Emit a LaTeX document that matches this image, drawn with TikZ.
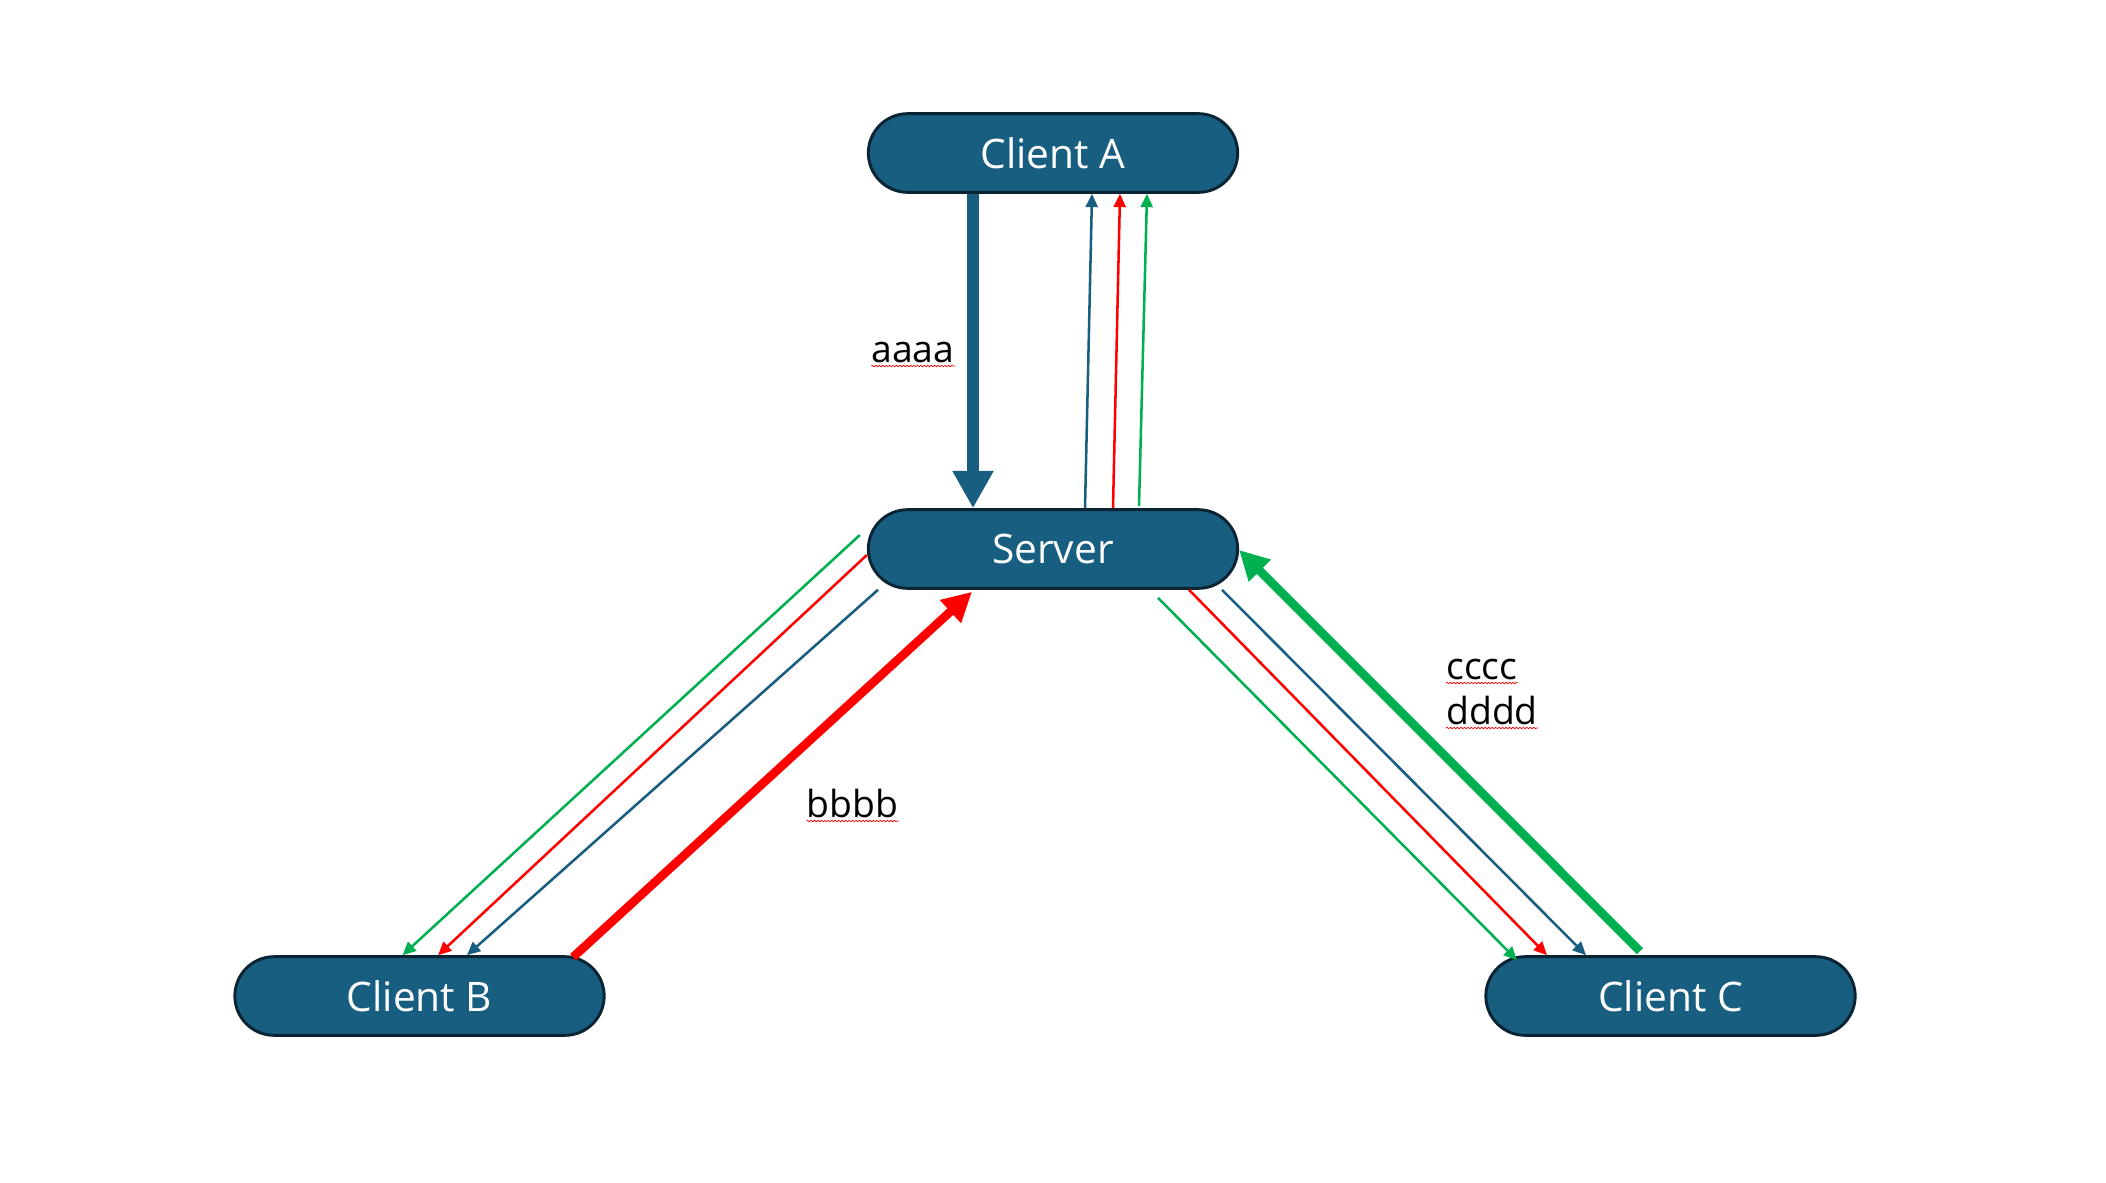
\documentclass[tikz,border=0pt]{standalone}
\usepackage{fontspec}
\setmainfont{Open Sans}
\usetikzlibrary{arrows.meta,calc,shapes.misc,decorations.pathmorphing}
\definecolor{nodeblue}{RGB}{23,94,128}
\definecolor{nodeedge}{RGB}{10,36,52}
\definecolor{pptgreen}{RGB}{0,176,80}
\definecolor{pptred}{RGB}{255,0,0}
\begin{document}
\begin{tikzpicture}[x=0.75pt,y=-0.75pt,
  client/.style={rounded rectangle, fill=nodeblue, draw=nodeedge, line width=2.2pt,
    minimum width=277pt, minimum height=59pt, text=white, inner sep=0pt,
    font=\fontsize{30.5}{34}\selectfont},
  lbl/.style={inner sep=0pt, text=black, font=\fontsize{28}{32}\selectfont},
  bigblue/.style={draw=nodeblue, line width=9pt, -{Triangle[length=28pt,width=29pt]}},
  bigcol/.style={line width=6.5pt, -{Triangle[length=22pt,width=22pt]}},
  thin/.style={line width=1.9pt, -{Triangle[length=10pt,width=9pt]}},
  squig/.style={draw=pptred, line width=0.5pt, decorate,
    decoration={snake, amplitude=0.6pt, segment length=2.6pt}}
]
\useasboundingbox (0,0) rectangle (2106,1182);

\node[client] (A) at (1053,153) {Client A};
\node[client] (S) at (1053,549) {Server};
\node[client] (B) at (419.5,996) {Client B};
\node[client] (C) at (1670.5,996) {Client C};

% Client A -> Server (thick blue)
\draw[bigblue] ($(A.south)+(-80,0)$) -- ($(S.north)+(-80,0)$);
% Server -> Client A (thin)
\draw[thin, draw=nodeblue, fill=nodeblue] ($(S.north)+(32,0)$) -- ($(A.south)+(39,0)$);
\draw[thin, draw=pptred, fill=pptred] ($(S.north)+(60,0)$) -- ($(A.south)+(67,0)$);
\draw[thin, draw=pptgreen, fill=pptgreen] ($(S.north)+(86,-2)$) -- ($(A.south)+(94,0)$);

% Server -> Client B (thin)
\draw[thin, draw=pptgreen, fill=pptgreen] ($(S.west)+(-7,-14)$) -- ($(B.north)+(-17,0)$);
\draw[thin, draw=pptred, fill=pptred] ($(S.west)+(0,6)$) -- ($(B.north)+(18.5,0)$);
\draw[thin, draw=nodeblue, fill=nodeblue] ($(S.south)+(-175,0)$) -- ($(B.north)+(47.5,0)$);
% Client B -> Server (thick red)
\draw[bigcol, draw=pptred, fill=pptred] ($(B.north)+(153.5,2)$) -- ($(S.south)+(-81,2)$);

% Server -> Client C (thin)
\draw[thin, draw=pptgreen, fill=pptgreen] ($(S.south)+(105,8)$) -- ($(C.north)+(-153.5,5)$);
\draw[thin, draw=pptred, fill=pptred] ($(S.south)+(136,0)$) -- ($(C.north)+(-123.5,0)$);
\draw[thin, draw=nodeblue, fill=nodeblue] ($(S.south)+(169,0)$) -- ($(C.north)+(-84.5,0)$);
% Client C -> Server (thick green)
\draw[bigcol, draw=pptgreen, fill=pptgreen] ($(C.north)+(-30.5,-4)$) -- ($(S.east)+(0,1)$);

% labels
\node[lbl, anchor=base] (la) at (913,362) {aaaa};
\node[lbl, anchor=base] (lb) at (852.5,817) {bbbb};
\node[lbl, anchor=base west] (lc) at (1446,679) {cccc};
\node[lbl, anchor=base west] (ld) at (1446,724) {dddd};
\foreach \n in {la,lb,lc,ld}{
  \draw[squig] ($(\n.base west)+(0,4)$) -- ($(\n.base east)+(0,4)$);
}
\end{tikzpicture}
\end{document}
